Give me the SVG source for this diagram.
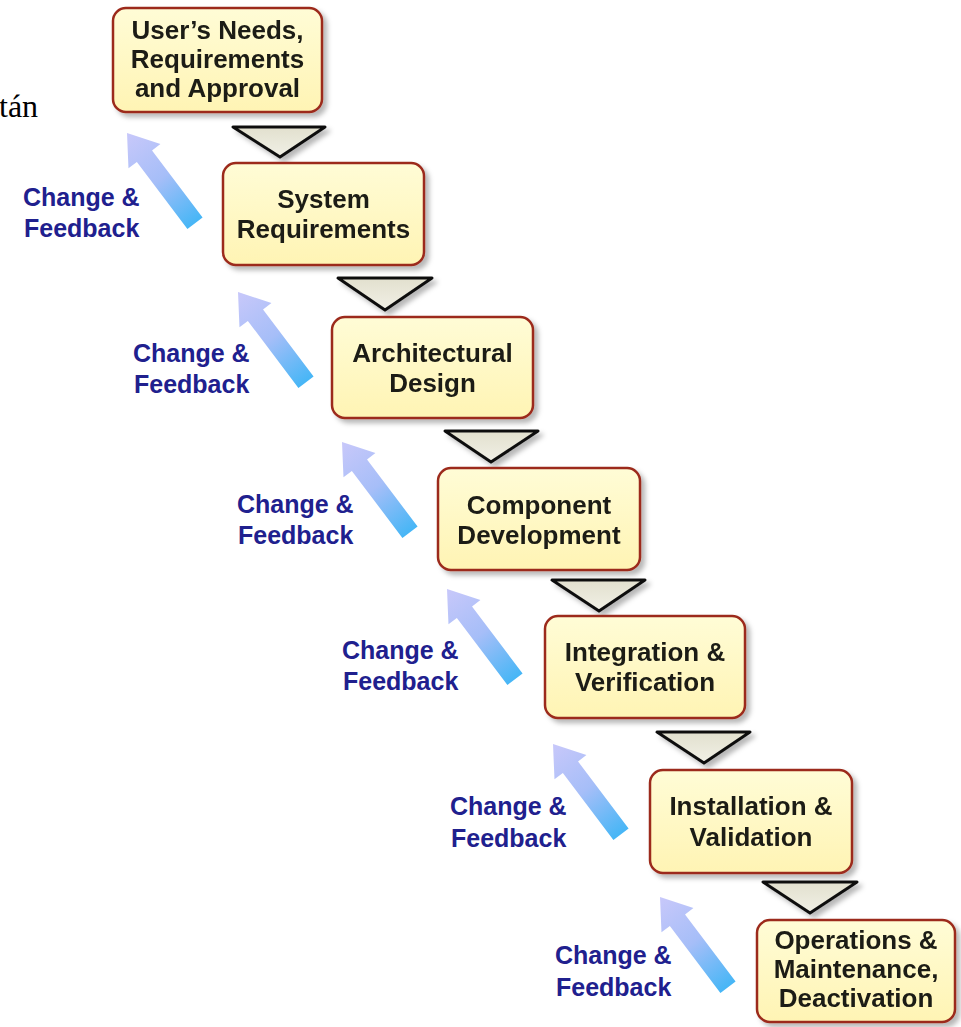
<svg xmlns="http://www.w3.org/2000/svg" width="961" height="1027" viewBox="0 0 961 1027">
  <style>
    .box { fill: url(#boxFill); stroke: #9c2c1c; stroke-width: 2.5; }
    .boxText { font-family: "Liberation Sans", Arial, sans-serif; font-weight: bold; font-size: 26px; fill: #1c1c14; text-anchor: middle; }
    .tri { fill: url(#triFill); stroke: #111; stroke-width: 3; stroke-linejoin: round; }
    .fb { fill: url(#arrowFill); }
    .fbText { font-family: "Liberation Sans", Arial, sans-serif; font-weight: bold; font-size: 25px; fill: #20208e; }
    .serif { font-family: "Liberation Serif", "Times New Roman", serif; font-size: 32px; fill: #000; }
  </style>
  <defs>
    <linearGradient id="boxFill" x1="0" y1="0" x2="0" y2="1">
      <stop offset="0" stop-color="#fffcd6"/>
      <stop offset="1" stop-color="#fff4b4"/>
    </linearGradient>
    <linearGradient id="triFill" x1="0" y1="0" x2="0" y2="1">
      <stop offset="0" stop-color="#e2e0ce"/>
      <stop offset="1" stop-color="#f1f0e6"/>
    </linearGradient>
    <linearGradient id="arrowFill" gradientUnits="userSpaceOnUse" x1="0" y1="0" x2="0" y2="113">
      <stop offset="0" stop-color="#c8c8fa"/>
      <stop offset="0.5" stop-color="#a6bef8"/>
      <stop offset="1" stop-color="#46b6f6"/>
    </linearGradient>
    <filter id="shadow" x="-10%" y="-10%" width="130%" height="130%">
      <feGaussianBlur in="SourceAlpha" stdDeviation="2.5"/>
      <feOffset dx="4" dy="4" result="off"/>
      <feFlood flood-color="#000" flood-opacity="0.28"/>
      <feComposite in2="off" operator="in"/>
      <feMerge><feMergeNode/><feMergeNode in="SourceGraphic"/></feMerge>
    </filter>
    <!-- block arrow pointing up, tip at origin -->
    <path id="fbArrow" d="M0 0 L20 29 L9.5 29 L9.5 113 L-9.5 113 L-9.5 29 L-20 29 Z"/>
  </defs>

  <text class="serif" x="-1" y="117">tán</text>

  <!-- connectors: flow triangles, feedback arrows and their labels -->
  <g id="connectors">
    <g filter="url(#shadow)">
      <polygon class="tri" points="233,127 325,127 280,157"/>
      <polygon class="tri" points="338,278 432,278 385,310"/>
      <polygon class="tri" points="445,431 538,431 491,462"/>
      <polygon class="tri" points="552,580 645,580 599,611"/>
      <polygon class="tri" points="657,732 750,732 704,763"/>
      <polygon class="tri" points="763,882 857,882 810,913"/>
    </g>
    <g id="feedback-arrows">
      <use href="#fbArrow" class="fb" transform="translate(127,133) rotate(-37)"/>
      <use href="#fbArrow" class="fb" transform="translate(238,292) rotate(-37)"/>
      <use href="#fbArrow" class="fb" transform="translate(342,442) rotate(-37)"/>
      <use href="#fbArrow" class="fb" transform="translate(447,589) rotate(-37)"/>
      <use href="#fbArrow" class="fb" transform="translate(553,744) rotate(-37)"/>
      <use href="#fbArrow" class="fb" transform="translate(660,897) rotate(-37)"/>
    </g>
    <g id="feedback-labels" class="fbText">
      <text x="23" y="206">Change &amp;</text><text x="24" y="237">Feedback</text>
      <text x="133" y="362">Change &amp;</text><text x="134" y="393">Feedback</text>
      <text x="237" y="513">Change &amp;</text><text x="238" y="544">Feedback</text>
      <text x="342" y="659">Change &amp;</text><text x="343" y="690">Feedback</text>
      <text x="450" y="815">Change &amp;</text><text x="451" y="847">Feedback</text>
      <text x="555" y="964">Change &amp;</text><text x="556" y="996">Feedback</text>
    </g>
  </g>

  <g id="node-needs" filter="url(#shadow)">
    <rect class="box" x="113" y="8" width="209" height="104" rx="13"/>
    <text class="boxText" x="217.5" y="39">User’s Needs,</text>
    <text class="boxText" x="217.5" y="68">Requirements</text>
    <text class="boxText" x="217.5" y="97">and Approval</text>
  </g>
  <g id="node-system" filter="url(#shadow)">
    <rect class="box" x="223" y="163" width="201" height="102" rx="13"/>
    <text class="boxText" x="323.5" y="208">System</text>
    <text class="boxText" x="323.5" y="238">Requirements</text>
  </g>
  <g id="node-architecture" filter="url(#shadow)">
    <rect class="box" x="332" y="317" width="201" height="101" rx="13"/>
    <text class="boxText" x="432.5" y="362">Architectural</text>
    <text class="boxText" x="432.5" y="392">Design</text>
  </g>
  <g id="node-component" filter="url(#shadow)">
    <rect class="box" x="438" y="468" width="202" height="102" rx="13"/>
    <text class="boxText" x="539" y="514">Component</text>
    <text class="boxText" x="539" y="544">Development</text>
  </g>
  <g id="node-integration" filter="url(#shadow)">
    <rect class="box" x="545" y="616" width="200" height="102" rx="13"/>
    <text class="boxText" x="645" y="661">Integration &amp;</text>
    <text class="boxText" x="645" y="691">Verification</text>
  </g>
  <g id="node-installation" filter="url(#shadow)">
    <rect class="box" x="650" y="770" width="202" height="103" rx="13"/>
    <text class="boxText" x="751" y="815">Installation &amp;</text>
    <text class="boxText" x="751" y="846">Validation</text>
  </g>
  <g id="node-operations" filter="url(#shadow)">
    <rect class="box" x="757" y="920" width="198" height="102" rx="13"/>
    <text class="boxText" x="856" y="949">Operations &amp;</text>
    <text class="boxText" x="856" y="978">Maintenance,</text>
    <text class="boxText" x="856" y="1007">Deactivation</text>
  </g>
</svg>
